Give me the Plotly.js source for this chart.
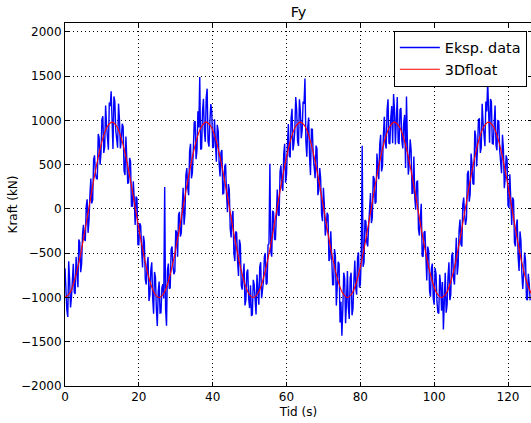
<!DOCTYPE html>
<html>
<head>
<meta charset="utf-8">
<script src="https://cdn.plot.ly/plotly-3.0.1.min.js"></script>
<style>
html,body{margin:0;padding:0;overflow:hidden;background:#fff;}
#chart{width:540px;height:423px;}
</style>
</head>
<body>
<div id="chart"></div>
<script>
// Experimental data: samples at whole/half seconds
var tidEksp = [
0,0.5,1,1.5,2,2.5,3,3.5,4,4.5,5,5.5,6,6.5,7,7.5,8,8.5,9,9.5,
10,10.5,11,11.5,12,12.5,13,13.5,14,14.5,15,15.5,16,16.5,17,17.5,18,18.5,19,19.5,
20,20.5,21,21.5,22,22.5,23,23.5,24,24.5,25,25.5,26,26.5,27,27.5,28,28.5,29,29.5,
30,30.5,31,31.5,32,32.5,33,33.5,34,34.5,35,35.5,36,36.5,37,37.5,38,38.5,39,39.5,
40,40.5,41,41.5,42,42.5,43,43.5,44,44.5,45,45.5,46,46.5,47,47.5,48,48.5,49,49.5,
50,50.5,51,51.5,52,52.5,53,53.5,54,54.5,55,55.5,56,56.5,57,57.5,58,58.5,59,59.5,
60,60.5,61,61.5,62,62.5,63,63.5,64,64.5,65,65.5,66,66.5,67,67.5,68,68.5,69,69.5,
70,70.5,71,71.5,72,72.5,73,73.5,74,74.5,75,75.5,76,76.5,77,77.5,78,78.5,79,79.5,
80,80.5,81,81.5,82,82.5,83,83.5,84,84.5,85,85.5,86,86.5,87,87.5,88,88.5,89,89.5,
90,90.5,91,91.5,92,92.5,93,93.5,94,94.5,95,95.5,96,96.5,97,97.5,98,98.5,99,99.5,
100,100.5,101,101.5,102,102.5,103,103.5,104,104.5,105,105.5,106,106.5,107,107.5,108,108.5,109,109.5,
110,110.5,111,111.5,112,112.5,113,113.5,114,114.5,115,115.5,116,116.5,117,117.5,118,118.5,119,119.5,
120,120.5,121,121.5,122,122.5,123,123.5,124,124.5,125,125.5,126
];
var kraftEksp = [
-670,-1142,-590,-1113,-732,-938,-542,-884,-377,-621,-179,-363,109,-130,342,101,605,345,847,499,
1012,632,1169,784,1203,1328,678,1213,734,1189,682,962,429,817,285,575,31,312,-180,119,
-403,-189,-661,-377,-854,-542,-968,-602,-1183,-770,-1322,
-820,-1172,-850,247,-1320,-618,-892,-424,-737,-241,-539,-33,-271,240,-48,461,155,735,407,979,
562,1102,1489,684,1243,758,1358,703,1184,689,1012,532,879,367,665,175,511,-38,220,-321,
-23,-589,-271,-757,-404,-912,-618,-1032,-683,-1120,-1202,
-800,-1092,-740,-1083,-602,-938,-542,-854,-407,509,-539,-43,-351,220,-78,491,205,735,387,959,
582,1132,739,1264,763,1238,798,1213,1474,589,1032,382,899,387,715,155,461,-58,240,-301,
-43,-589,-251,-857,-454,-1092,-598,-1282,-1433,-720,-1292,
-700,-1242,-720,-1133,-582,-968,-492,-854,713,-601,-139,-423,99,-160,372,61,625,335,837,479,
1042,682,1239,734,1163,1298,728,1263,734,1139,682,1062,1269,387,785,175,591,-8,320,-301,
57,-539,-251,-807,-474,-992,-618,-1082,-733,-1170,-742,
-1150,-1362,-720,-1083,-602,-968,-492,-854,-327,-631,-119,-423,129,-180,392,81,625,285,887,479,
1012,632,1189,784,1213,1448,748,1213,734,1169,662,992,479,837,235,605,41,392,-180,99,
-423,-119,-701,-357,-904,-492,-1018,-732,-1033
];
// Experimental data: samples at quarter seconds in between
var tidEkspMid = [
0.25,0.75,1.25,1.75,2.25,2.75,3.25,3.75,4.25,4.75,5.25,5.75,6.25,6.75,7.25,7.75,8.25,8.75,9.25,9.75,
10.25,10.75,11.25,11.75,12.25,12.75,13.25,13.75,14.25,14.75,15.25,15.75,16.25,16.75,17.25,17.75,18.25,18.75,19.25,19.75,
20.25,20.75,21.25,21.75,22.25,22.75,23.25,23.75,24.25,24.75,25.25,25.75,26.25,26.75,27.25,27.75,28.25,28.75,29.25,29.75,
30.25,30.75,31.25,31.75,32.25,32.75,33.25,33.75,34.25,34.75,35.25,35.75,36.25,36.75,37.25,37.75,38.25,38.75,39.25,39.75,
40.25,40.75,41.25,41.75,42.25,42.75,43.25,43.75,44.25,44.75,45.25,45.75,46.25,46.75,47.25,47.75,48.25,48.75,49.25,49.75,
50.25,50.75,51.25,51.75,52.25,52.75,53.25,53.75,54.25,54.75,55.25,55.75,56.25,56.75,57.25,57.75,58.25,58.75,59.25,59.75,
60.25,60.75,61.25,61.75,62.25,62.75,63.25,63.75,64.25,64.75,65.25,65.75,66.25,66.75,67.25,67.75,68.25,68.75,69.25,69.75,
70.25,70.75,71.25,71.75,72.25,72.75,73.25,73.75,74.25,74.75,75.25,75.75,76.25,76.75,77.25,77.75,78.25,78.75,79.25,79.75,
80.25,80.75,81.25,81.75,82.25,82.75,83.25,83.75,84.25,84.75,85.25,85.75,86.25,86.75,87.25,87.75,88.25,88.75,89.25,89.75,
90.25,90.75,91.25,91.75,92.25,92.75,93.25,93.75,94.25,94.75,95.25,95.75,96.25,96.75,97.25,97.75,98.25,98.75,99.25,99.75,
100.25,100.75,101.25,101.75,102.25,102.75,103.25,103.75,104.25,104.75,105.25,105.75,106.25,106.75,107.25,107.75,108.25,108.75,109.25,109.75,
110.25,110.75,111.25,111.75,112.25,112.75,113.25,113.75,114.25,114.75,115.25,115.75,116.25,116.75,117.25,117.75,118.25,118.75,119.25,119.75,
120.25,120.75,121.25,121.75,122.25,122.75,123.25,123.75,124.25,124.75,125.25,125.75
];
var kraftEkspMid = [
-936,-1221,-802,-998,-620,-960,-678,-346,-714,-285,-341,28,-270,161,62,558,400,336,803,631,
1047,701,952,669,1161,858,1271,889,692,1011,777,931,383,626,300,538,32,111,140,-402,
-161,-445,-304,-796,-628,-1040,-690,-1008,-712,-1131,-936,
-1176,-891,-1012,-1138,-690,-900,-458,-646,-704,-265,-71,-312,10,-179,382,238,650,346,653,991,
667,921,672,1099,881,1258,761,989,1102,701,747,951,513,636,170,478,172,281,-220,-82,
-501,-255,-594,-346,-868,-750,-1090,-718,-1012,-861,-1196,
-856,-1191,-882,-658,-1010,-820,-498,-836,-394,-485,-21,-342,-10,-69,422,248,620,296,713,601,
1027,661,882,1119,711,1108,891,1189,762,921,587,901,593,346,680,208,342,-139,50,-222,
-71,-565,-484,-856,-538,-870,-620,-1048,-1132,-781,-1056,
-1116,-781,-1202,-818,-890,-550,-888,-546,-654,-125,-381,-192,180,-99,342,78,480,726,423,841,
737,1121,742,1029,741,1128,1011,749,1122,771,967,461,733,506,670,178,122,301,-230,-102,
-531,-265,-524,-426,-928,-670,-1010,-668,-1042,-1181,-846,
-826,-1041,-1172,-768,-1030,-530,-788,-576,-744,-235,-401,48,-80,-109,432,168,510,276,823,691,
1017,691,972,709,1101,878,1241,739,962,721,997,661,403,686,350,558,12,101,130,-382,
-191,-545,-254,-726,-728,-580,-1030,-848
];
// 3Dfloat simulation
var tidSim = [
0,1.28,2.55,3.83,5.1,6.38,7.65,8.93,10.2,11.48,12.75,14.03,15.3,16.58,17.85,19.13,20.4,21.68,22.95,24.23,
25.5,26.78,28.05,29.33,30.6,31.88,33.15,34.43,35.7,36.98,38.25,39.53,40.8,42.08,43.35,44.63,45.9,47.18,48.45,49.73,
51,52.28,53.55,54.83,56.1,57.38,58.65,59.93,61.2,62.48,63.75,65.03,66.3,67.58,68.85,70.13,71.4,72.68,73.95,75.23,
76.5,77.78,79.05,80.33,81.6,82.88,84.15,85.43,86.7,87.98,89.25,90.53,91.8,93.08,94.35,95.63,96.9,98.18,99.45,100.73,
102,103.28,104.55,105.83,107.1,108.38,109.65,110.93,112.2,113.48,114.75,116.03,117.3,118.58,119.85,121.13,122.4,123.68,124.95,126.23
];
var kraftSim = [
-1000,-952,-811,-592,-316,-10,296,572,791,931,980,931,791,572,296,-10,-316,-592,-811,-952,
-1000,-952,-811,-592,-316,-10,296,572,791,931,980,931,791,572,296,-10,-316,-592,-811,-952,
-1000,-952,-811,-592,-316,-10,296,572,791,931,980,931,791,572,296,-10,-316,-592,-811,-952,
-1000,-952,-811,-592,-316,-10,296,572,791,931,980,931,791,572,296,-10,-316,-592,-811,-952,
-1000,-952,-811,-592,-316,-10,296,572,791,931,980,931,791,572,296,-10,-316,-592,-811,-952
];
var xTicks = [0,20,40,60,80,100,120];
var yTicks = [-2000,-1500,-1000,-500,0,500,1000,1500,2000];

// interleave the two sample sets into one time-ordered series
var ex = [], ey = [];
for (var i = 0; i < tidEksp.length; i++) {
  ex.push(tidEksp[i]); ey.push(kraftEksp[i]);
  if (i < tidEkspMid.length) { ex.push(tidEkspMid[i]); ey.push(kraftEkspMid[i]); }
}

var font = "DejaVu Sans, sans-serif";
var traces = [
  {x: ex, y: ey, type: 'scatter', mode: 'lines', name: 'Eksp. data',
   line: {color: '#0000ff', width: 1.4}},
  {x: tidSim, y: kraftSim, type: 'scatter', mode: 'lines', name: '3Dfloat',
   line: {color: '#ff0000', width: 1.1, shape: 'spline', smoothing: 1}}
];
var axisCommon = {
  showline: true, linecolor: 'black', linewidth: 1, mirror: 'allticks',
  ticks: 'inside', ticklen: 4, tickwidth: 1, tickcolor: 'black',
  showgrid: true, gridcolor: 'black', gridwidth: 1, griddash: '1px,3px',
  zeroline: false, tickfont: {family: font, size: 12, color: 'black'}
};
var layout = {
  width: 540, height: 423,
  margin: {l: 65, r: 8, t: 23, b: 37},
  paper_bgcolor: 'white', plot_bgcolor: 'white',
  showlegend: true,
  title: {text: 'Fy', font: {family: font, size: 14.4, color: 'black'},
          x: 0.5, xref: 'paper', y: 0.972, yref: 'container', yanchor: 'middle'},
  xaxis: Object.assign({}, axisCommon, {
    range: [0, 126.5], tickvals: xTicks, ticktext: xTicks.map(String),
    title: {text: 'Tid (s)', font: {family: font, size: 12, color: 'black'}, standoff: 4}
  }),
  yaxis: Object.assign({}, axisCommon, {
    range: [-2000, 2100], tickvals: yTicks,
    title: {text: 'Kraft (kN)', font: {family: font, size: 12, color: 'black'}, standoff: 0}
  }),
  legend: {x: 0.989, xanchor: 'right', y: 0.979, yanchor: 'top',
    bgcolor: 'white', bordercolor: 'black', borderwidth: 1, itemwidth: 40,
    font: {family: font, size: 14.4, color: 'black'}, tracegroupgap: 0}
};
Plotly.newPlot('chart', traces, layout, {displayModeBar: false, staticPlot: true});
</script>
</body>
</html>
